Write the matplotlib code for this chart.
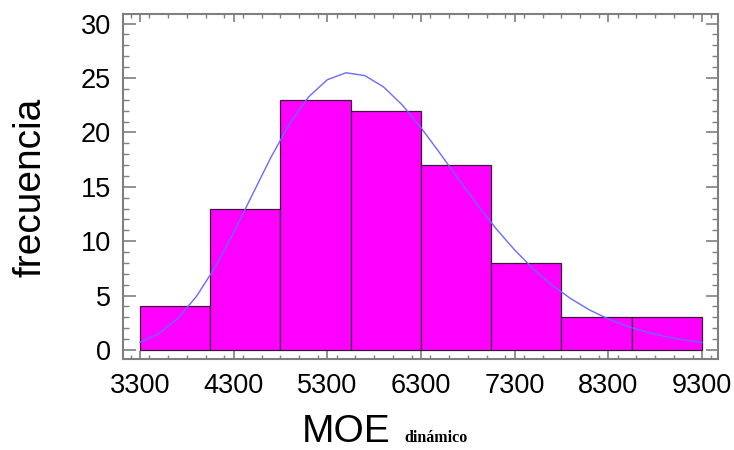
import matplotlib
matplotlib.use("Agg")
import matplotlib.pyplot as plt
from matplotlib.ticker import MultipleLocator, FixedLocator

# Histogram data
bin_edges = [3300, 4050, 4800, 5550, 6300, 7050, 7800, 8550, 9300]
frequencies = [4, 13, 23, 22, 17, 8, 3, 3]

# Fitted density curve
curve_x = [3300, 3500, 3700, 3900, 4100, 4300, 4500, 4700, 4900, 5100, 5300, 5500,
           5700, 5900, 6100, 6300, 6500, 6700, 6900, 7100, 7300, 7500, 7700, 7900,
           8100, 8300, 8500, 8700, 8900, 9100, 9300]
curve_y = [0.70, 1.51, 2.87, 4.89, 7.57, 10.78, 14.28, 17.74, 20.83, 23.26, 24.84, 25.48,
           25.22, 24.18, 22.52, 20.43, 18.11, 15.71, 13.37, 11.17, 9.19, 7.45, 5.96, 4.71,
           3.68, 2.85, 2.18, 1.66, 1.25, 0.94, 0.70]

x_ticks = [3300, 4300, 5300, 6300, 7300, 8300, 9300]
y_ticks = [0, 5, 10, 15, 20, 25, 30]

plt.rcParams['font.family'] = ['Liberation Sans', 'DejaVu Sans']

W, H = 734, 450
fig = plt.figure(figsize=(W / 100, H / 100), dpi=100)
ax = fig.add_axes([123.3 / W, 1 - 359.3 / H, (718.3 - 123.3) / W, (359.3 - 14) / H])

widths = [bin_edges[i + 1] - bin_edges[i] for i in range(len(frequencies))]
ax.bar(bin_edges[:-1], frequencies, width=widths, align='edge',
       color='#ff00ff', edgecolor='#3a1a3a', linewidth=0.9, zorder=2)
ax.plot(curve_x, curve_y, color='#6a6aff', linewidth=1.0, zorder=3)

ax.set_xlim(3122, 9474)
ax.set_ylim(-0.855, 30.88)

ax.xaxis.set_major_locator(FixedLocator(x_ticks))
ax.xaxis.set_minor_locator(MultipleLocator(200))
ax.yaxis.set_major_locator(FixedLocator(y_ticks))
ax.yaxis.set_minor_locator(MultipleLocator(1))
ax.set_xticklabels([str(v) for v in x_ticks])
ax.set_yticklabels([str(v) for v in y_ticks])

grey = '#7f7f7f'
for s in ax.spines.values():
    s.set_color(grey)
    s.set_linewidth(1.5)

ax.tick_params(axis='x', which='major', direction='in', length=6, width=1.2, color=grey,
               top=True, bottom=True, labelsize=19.5, pad=10)
ax.tick_params(axis='x', which='minor', direction='in', length=3, width=1.0, color=grey,
               top=True, bottom=True)
ax.tick_params(axis='y', which='major', direction='in', length=9, width=1.2, color=grey,
               left=True, right=True, labelsize=19.5, pad=9)
ax.tick_params(axis='y', which='minor', direction='in', length=4, width=1.0, color=grey,
               left=True, right=True)

# Axis labels
fig.text(31 / W, 1 - 187 / H, 'frecuencia', rotation=90, fontsize=28,
         ha='center', va='center')
fig.text(302 / W, 1 - 442 / H, 'MOE', fontsize=28, ha='left', va='baseline')
fig.text(404 / W, 1 - 442 / H, 'dinámico', fontsize=11.5, fontweight='bold',
         family=['Liberation Serif', 'DejaVu Serif'], ha='left', va='baseline')

fig.savefig('out.png', dpi=100, facecolor='white')
